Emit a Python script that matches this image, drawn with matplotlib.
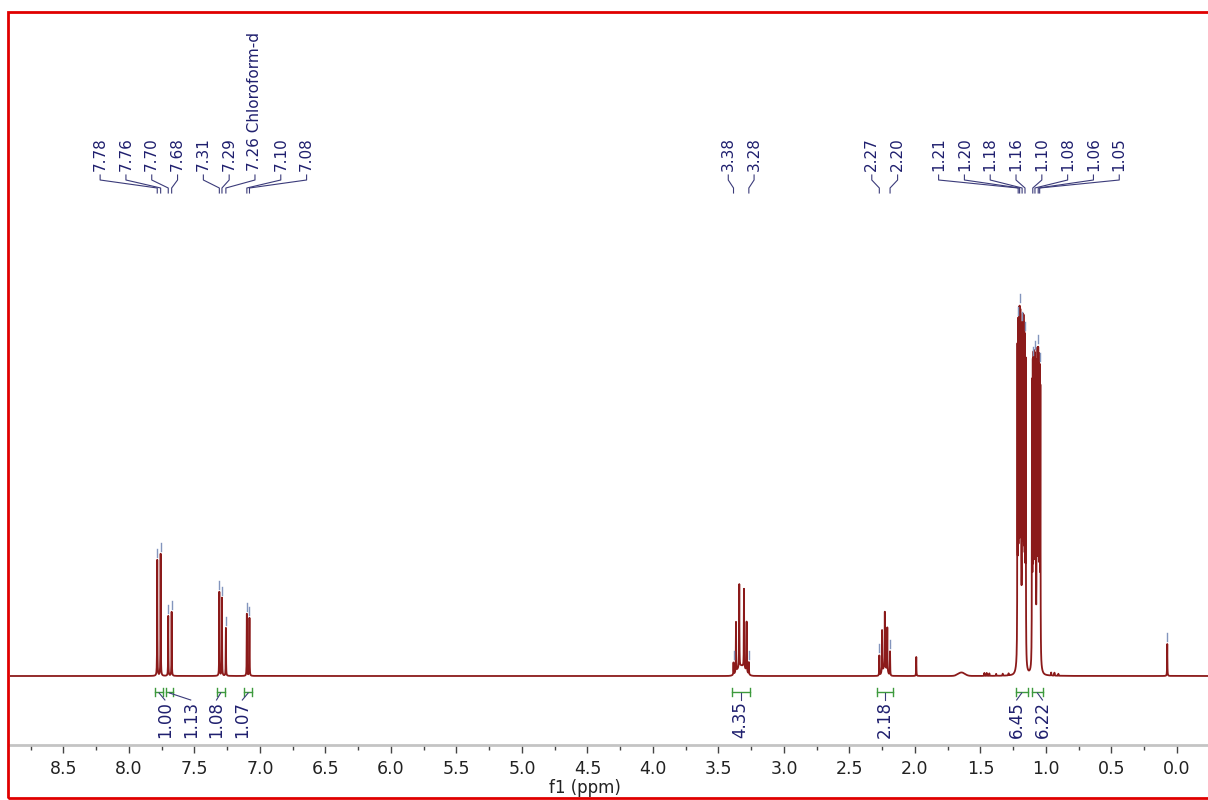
import numpy as np
import matplotlib
matplotlib.use("Agg")
import matplotlib.pyplot as plt
from matplotlib.patches import Rectangle

# Peak list (ppm, height in display units; baseline = 0)
peak_ppm = [7.784, 7.758, 7.700, 7.674,
            7.310, 7.290, 7.260, 7.100, 7.080,
            3.385, 3.366, 3.341, 3.305, 3.285, 3.268,
            2.272, 2.251, 2.230, 2.211, 2.190,
            1.990,
            1.470, 1.452, 1.432, 1.380, 1.330, 1.285,
            1.2175, 1.212, 1.2065, 1.201, 1.1955, 1.190,
            1.182, 1.1765, 1.171, 1.1655, 1.160, 1.1545,
            1.106, 1.1005, 1.095, 1.0895, 1.084, 1.0785,
            1.070, 1.0645, 1.059, 1.0535, 1.048, 1.0425,
            0.960, 0.935, 0.905,
            0.074]
peak_height = [116, 122, 60, 64,
               84, 78, 48, 62, 58,
               12, 50, 83, 79, 50, 12,
               20, 42, 56, 44, 24,
               19,
               3, 3, 2.5, 2, 2, 2,
               302, 310, 313, 310, 305, 297,
               298, 305, 307, 304, 300, 292,
               274, 280, 282, 280, 276, 270,
               272, 278, 280, 277, 272, 266,
               3, 3, 2,
               32]
# broad humps under the multiplets (ppm, height, width)
broad_ppm = [1.645, 1.190, 1.070, 3.325, 2.230]
broad_height = [3.5, 24, 16, 10, 8]
broad_width = [0.06, 0.045, 0.045, 0.07, 0.04]

# Peak labels shown above the spectrum, grouped as in the original
top_labels = [["7.78", "7.76", "7.70", "7.68", "7.31", "7.29", "7.26 Chloroform-d", "7.10", "7.08"],
              ["3.38", "3.28"],
              ["2.27", "2.20"],
              ["1.21", "1.20", "1.18", "1.16", "1.10", "1.08", "1.06", "1.05"]]
top_label_ppm = [[7.784, 7.758, 7.700, 7.674, 7.310, 7.290, 7.260, 7.100, 7.080],
                 [3.385, 3.268],
                 [2.272, 2.190],
                 [1.212, 1.201, 1.182, 1.160, 1.1005, 1.084, 1.059, 1.048]]

# Integrals (range start, range end, value)
integral_start = [7.80, 7.72, 7.33, 7.12, 3.40, 2.29, 1.23, 1.11]
integral_end = [7.74, 7.66, 7.27, 7.06, 3.26, 2.17, 1.14, 1.02]
integral_value = ["1.00", "1.13", "1.08", "1.07", "4.35", "2.18", "6.45", "6.22"]

line_color = '#8B1A1A'
label_color = '#1f1f6e'
green = '#3d9a3d'
marker_color = '#8395bd'


def spread_positions(centers, gap, cluster_gap):
    """Place labels evenly (gap in ppm) around the middle of each cluster."""
    centers = np.asarray(centers, dtype=float)
    order = np.argsort(-centers)
    positions = np.zeros_like(centers)
    clusters = [[order[0]]]
    for idx in order[1:]:
        if centers[clusters[-1][-1]] - centers[idx] < cluster_gap:
            clusters[-1].append(idx)
        else:
            clusters.append([idx])
    for cl in clusters:
        mid = (centers[cl[0]] + centers[cl[-1]]) / 2
        n = len(cl)
        for j, idx in enumerate(cl):
            positions[idx] = mid - (j - (n - 1) / 2) * gap
    return positions


def build_spectrum(ppm):
    y = np.zeros_like(ppm)
    hw = 0.0012
    for p, h in zip(peak_ppm, peak_height):
        y += h * hw ** 2 / ((ppm - p) ** 2 + hw ** 2)
    for p, h, w in zip(broad_ppm, broad_height, broad_width):
        y += h * np.exp(-0.5 * ((ppm - p) / (w / 2.355)) ** 2)
    return y


fig = plt.figure(figsize=(12.08, 8.0), dpi=100)
ax = fig.add_axes([10 / 1208, 1 - 745 / 800, 1 - 10 / 1208, (745 - 12) / 800])

ppm = np.linspace(-0.3, 9.0, 90000)
spectrum = build_spectrum(ppm)
ax.plot(ppm, spectrum, color=line_color, lw=1.3, zorder=3)

ax.set_xlim(8.908, -0.237)
ax.set_ylim(-69, 664)

# peak top markers
all_marked = [p for grp in top_label_ppm for p in grp] + [0.074]
for p in all_marked:
    h = build_spectrum(np.array([p]))[0]
    ax.plot([p, p], [h + 3, h + 11], color=marker_color, lw=1.0, zorder=4)

# labels above the peaks
gap = 0.197
flat_text = [t for grp in top_labels for t in grp]
flat_ppm = [p for grp in top_label_ppm for p in grp]
label_pos = spread_positions(flat_ppm, gap, 0.45)
for text, p, lp in zip(flat_text, flat_ppm, label_pos):
    ax.text(lp, 505, text, rotation=90, ha='center', va='bottom', fontsize=11,
            color=label_color)
    ax.plot([lp, lp, p, p], [501, 496, 488, 483], color='#3b3b7a', lw=0.8)

# integral brackets and values
int_center = [(s + e) / 2 for s, e in zip(integral_start, integral_end)]
int_pos = spread_positions(int_center, gap, 0.45)
for s, e, c, lp, val in zip(integral_start, integral_end, int_center, int_pos, integral_value):
    ax.plot([s, e], [-16, -16], color=green, lw=1.0)
    ax.plot([s, s], [-12, -20], color=green, lw=1.0)
    ax.plot([e, e], [-12, -20], color=green, lw=1.0)
    ax.plot([c, lp], [-17, -24], color='#3b3b7a', lw=0.8)
    ax.text(lp, -25, val, rotation=90, ha='center', va='top', fontsize=12,
            color=label_color)

# axis formatting
ax.set_xticks(np.arange(0, 8.51, 0.5))
ax.set_xticks(np.arange(0.25, 8.8, 0.5), minor=True)
ax.set_xticklabels([f"{t:.1f}" for t in np.arange(0, 8.51, 0.5)])
ax.tick_params(axis='x', which='major', direction='out', length=6, width=1,
               color='#444444', labelsize=12.5, pad=5, labelcolor='#222222')
ax.tick_params(axis='x', which='minor', direction='out', length=3.5, width=1,
               color='#444444')
ax.set_yticks([])
for side in ['left', 'right', 'top']:
    ax.spines[side].set_visible(False)
ax.spines['bottom'].set_color('#c4c4c4')
ax.spines['bottom'].set_linewidth(2)
ax.patch.set_alpha(0)

fig.text(585 / 1208, 1 - 788 / 800, "f1 (ppm)", ha='center', va='center',
         fontsize=12, color='#222222')

# red frame around the whole picture
fig.patches.append(Rectangle((8 / 1208, 2 / 800), 1.2, (798 - 12) / 800,
                             transform=fig.transFigure, fill=False,
                             edgecolor='#e00000', lw=2.0))

plt.savefig("out.png", dpi=100)
